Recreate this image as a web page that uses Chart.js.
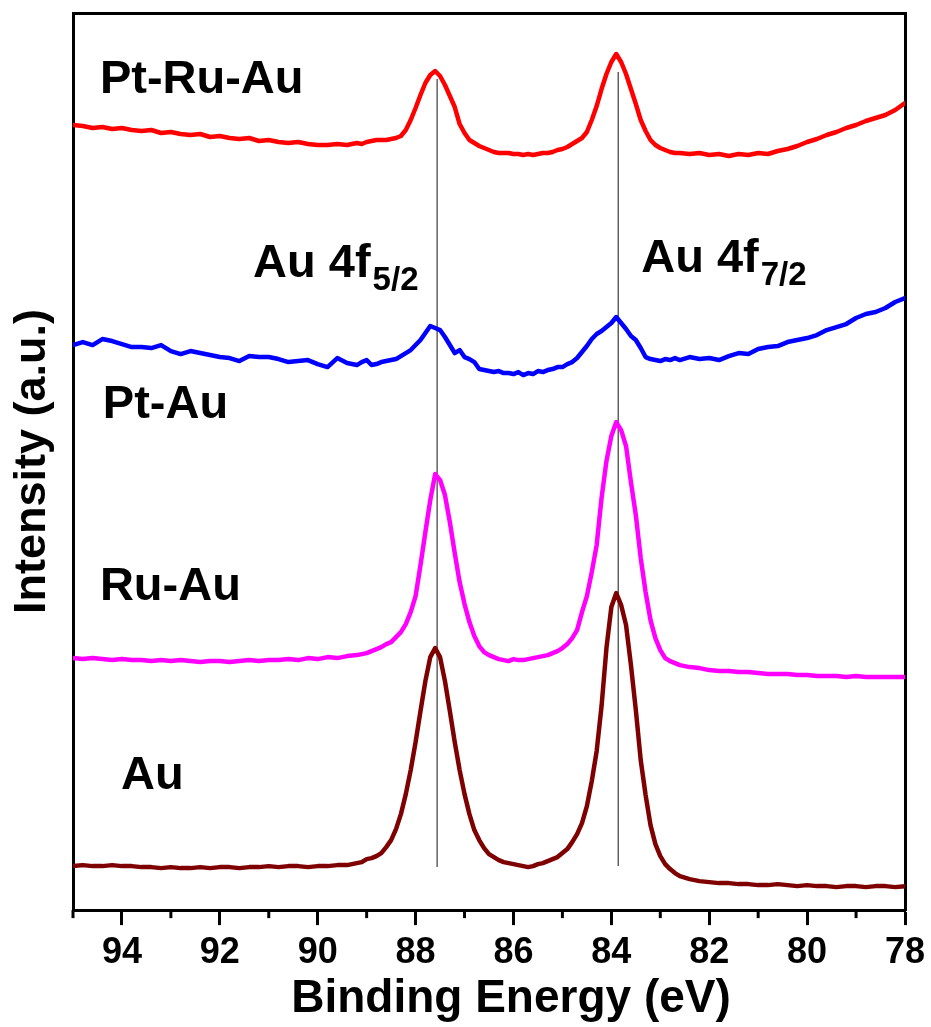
<!DOCTYPE html>
<html>
<head>
<meta charset="utf-8">
<script src="https://cdn.jsdelivr.net/npm/chart.js@4.4.1/dist/chart.umd.min.js"></script>
<style>
  html, body { margin: 0; padding: 0; background: #fff; }
  #wrap { width: 931px; height: 1027px; }
</style>
</head>
<body>
<div id="wrap"><canvas id="xps" width="931" height="1027"></canvas></div>
<script>
// binding energy (eV), finer steps across the Au 4f doublet
const energies = [
  95.0, 94.8, 94.6, 94.4, 94.2, 94.0, 93.8, 93.6, 93.4, 93.2, 93.0, 92.8, 92.6, 92.4, 92.2,
  92.0, 91.8, 91.6, 91.4, 91.2, 91.0, 90.8, 90.6, 90.4, 90.2, 90.0, 89.8, 89.6, 89.4, 89.2,
  89.1, 89.0, 88.9, 88.8, 88.7, 88.6, 88.5, 88.4, 88.3, 88.2, 88.1, 88.0, 87.9, 87.8, 87.7,
  87.6, 87.5, 87.4, 87.3, 87.2, 87.1, 87.0, 86.9, 86.8, 86.7, 86.6, 86.5, 86.4, 86.3, 86.2,
  86.1, 86.0, 85.9, 85.8, 85.7, 85.6, 85.5, 85.4, 85.3, 85.2, 85.1, 85.0, 84.9, 84.8, 84.7,
  84.6, 84.5, 84.4, 84.3, 84.2, 84.1, 84.0, 83.9, 83.8, 83.7, 83.6, 83.5, 83.4, 83.3, 83.2,
  83.1, 83.0, 82.9, 82.8, 82.7, 82.6,
  82.4, 82.2, 82.0, 81.8, 81.6, 81.4, 81.2, 81.0, 80.8, 80.6, 80.4, 80.2, 80.0, 79.8, 79.6,
  79.4, 79.2, 79.0, 78.8, 78.6, 78.4, 78.2, 78.0
];

// stacked intensities (a.u., offset per sample)
const ptRuAu = [
  785, 784, 782, 783, 781, 782, 780, 779, 780, 777, 778, 776, 775, 776, 773,
  774, 772, 771, 772, 769, 770, 768, 767, 768, 766, 765, 765, 766, 765, 767,
  766, 768, 769, 770, 770, 770, 771, 772, 774, 780, 790, 802, 815, 827, 835,
  839, 834, 825, 814, 803, 786, 777, 770, 767, 764, 762, 760, 758, 757, 757,
  757, 756, 756, 755, 756, 755, 756, 757, 757, 758, 760, 761, 763, 766, 769,
  772, 778, 790, 804, 821, 836, 848, 856, 848, 836, 821, 806, 790, 779, 770,
  765, 762, 760, 758, 757, 757,
  756, 757, 755, 756, 754, 756, 755, 757, 756, 759, 761, 764, 768, 771, 775,
  778, 782, 785, 789, 792, 795, 800, 807
];
const ptAu = [
  565, 568, 565, 571, 569, 566, 563, 563, 562, 565, 559, 556, 559, 557, 555,
  553, 552, 549, 554, 553, 553, 551, 548, 549, 550, 546, 543, 552, 547, 545,
  548, 550, 545, 546, 548, 549, 550, 551, 554, 557, 560, 565, 570, 577, 584,
  582, 580, 573, 565, 557, 560, 553, 551, 548, 541, 540, 539, 538, 539, 537,
  537, 536, 538, 535, 537, 536, 539, 538, 540, 541, 543, 543, 546, 548, 552,
  558, 564, 571, 576, 579, 583, 587, 593, 587, 581, 574, 570, 562, 553, 551,
  550, 549, 551, 550, 552, 550,
  553, 551, 552, 550, 554, 557, 556, 561, 563, 564, 568, 570, 572, 575, 580,
  583, 586, 592, 596, 598, 602, 608, 612
];
const ruAu = [
  252, 251, 252, 251, 250, 251, 250, 250, 249, 250, 249, 250, 249, 248, 249,
  249, 248, 249, 250, 249, 250, 250, 251, 250, 252, 251, 253, 252, 254, 255,
  256, 257, 259, 261, 263, 266, 268, 273, 278, 286, 298, 314, 345, 378, 410,
  436, 430, 415, 388, 357, 328, 306, 288, 274, 264, 258, 255, 253, 251, 250,
  249, 251, 250, 250, 251, 252, 253, 254, 255, 257, 259, 262, 266, 272, 280,
  298, 314, 338, 365, 412, 449, 474, 488, 480, 464, 428, 395, 352, 318, 290,
  272, 260, 252, 249, 247, 245,
  243, 242, 240, 239, 239, 238, 238, 237, 236, 236, 236, 235, 235, 234, 234,
  234, 233, 234, 233, 233, 233, 233, 233
];
const au = [
  44, 45, 44, 44, 45, 44, 44, 43, 43, 42, 43, 42, 42, 43, 42,
  43, 43, 42, 43, 43, 44, 43, 44, 44, 43, 44, 44, 45, 45, 47,
  48, 51, 52, 54, 57, 63, 70, 81, 96, 116, 140, 168, 199, 229, 253,
  262, 253, 229, 199, 168, 140, 116, 96, 80, 70, 62, 56, 53, 50, 48,
  47, 46, 45, 44, 43, 44, 46, 47, 49, 51, 53, 57, 61, 68, 76,
  87, 104, 129, 159, 204, 262, 303, 317, 305, 285, 245, 200, 150, 115, 85,
  66, 54, 46, 41, 37, 34,
  31, 29, 28, 27, 27, 26, 26, 25, 25, 26, 25, 24, 25, 24, 24,
  23, 24, 24, 23, 24, 24, 23, 24
];

// peak positions (eV) and vertical extent of the guide lines
const peakLines = [87.56, 83.86];
const peakLineSpan = [[43, 831], [44, 838]];

const majorTicks = [94, 92, 90, 88, 86, 84, 82, 80, 78];
const minorTicks = [95, 93, 91, 89, 87, 85, 83, 81, 79];

const FONT = "'Liberation Sans', Arial, sans-serif";

function series(values) {
  return values.map((v, i) => ({ x: energies[i], y: v }));
}

function curve(label, values, color) {
  return {
    label: label,
    data: series(values),
    borderColor: color,
    borderWidth: 4.5,
    pointRadius: 0,
    tension: 0,
    borderJoinStyle: 'round',
    borderCapStyle: 'round'
  };
}

function guide(e, span) {
  return {
    label: 'guide',
    data: [{ x: e, y: span[0] }, { x: e, y: span[1] }],
    borderColor: '#3a3a3a',
    borderWidth: 1.2,
    pointRadius: 0
  };
}

// sample names and peak labels, placed in data coordinates
const textLabels = [
  { text: 'Pt-Ru-Au', at: [94.45, 817] },
  { text: 'Pt-Au', at: [94.39, 492] },
  { text: 'Ru-Au', at: [94.45, 310] },
  { text: 'Au', at: [94.02, 121] },
  { text: 'Au 4f', sub: '5/2', at: [91.32, 633] },
  { text: 'Au 4f', sub: '7/2', at: [83.39, 638] }
];

// x title sits a little right of the axis centre in the original
const xTitle = { text: 'Binding Energy (eV)', at: 86.05, below: 89 };

const labelPlugin = {
  id: 'textLabels',
  afterDatasetsDraw(chart) {
    const { ctx, scales, chartArea } = chart;
    ctx.save();
    ctx.fillStyle = '#000';
    ctx.textAlign = 'left';
    ctx.textBaseline = 'alphabetic';
    textLabels.forEach(function (l) {
      const px = scales.x.getPixelForValue(l.at[0]);
      const py = scales.y.getPixelForValue(l.at[1]);
      ctx.font = 'bold 47px ' + FONT;
      ctx.fillText(l.text, px, py);
      if (l.sub) {
        const w = ctx.measureText(l.text).width;
        ctx.font = 'bold 33px ' + FONT;
        ctx.fillText(l.sub, px + w + 2, py + 13);
      }
    });
    ctx.textAlign = 'center';
    ctx.textBaseline = 'middle';
    ctx.font = 'bold 46px ' + FONT;
    ctx.fillText(xTitle.text, scales.x.getPixelForValue(xTitle.at), chartArea.bottom + xTitle.below);
    ctx.restore();
  }
};

// short minor ticks between the labelled ones
const minorTickPlugin = {
  id: 'minorTicks',
  afterDraw(chart) {
    const { ctx, chartArea, scales } = chart;
    ctx.save();
    ctx.strokeStyle = '#000';
    ctx.lineWidth = 3;
    minorTicks.forEach(function (v) {
      const px = scales.x.getPixelForValue(v);
      ctx.beginPath();
      ctx.moveTo(px, chartArea.bottom);
      ctx.lineTo(px, chartArea.bottom + 8);
      ctx.stroke();
    });
    ctx.restore();
  }
};

new Chart(document.getElementById('xps'), {
  type: 'line',
  data: {
    datasets: [
      curve('Pt-Ru-Au', ptRuAu, '#ff0000'),
      curve('Pt-Au', ptAu, '#0000ff'),
      curve('Ru-Au', ruAu, '#ff00ff'),
      curve('Au', au, '#7f0000'),
      guide(peakLines[0], peakLineSpan[0]),
      guide(peakLines[1], peakLineSpan[1])
    ]
  },
  options: {
    responsive: false,
    animation: false,
    devicePixelRatio: 1,
    layout: { padding: { left: 0, right: 26, top: 13, bottom: 45 } },
    plugins: { legend: { display: false }, tooltip: { enabled: false } },
    scales: {
      x: {
        type: 'linear',
        position: 'bottom',
        min: 78,
        max: 95,
        reverse: true,
        afterBuildTicks: function (scale) {
          scale.ticks = majorTicks.map(v => ({ value: v }));
        },
        ticks: {
          color: '#000',
          padding: 0,
          maxRotation: 0,
          font: { family: FONT, size: 36, weight: 'bold', lineHeight: 1.58 }
        },
        grid: {
          display: true,
          drawOnChartArea: false,
          drawTicks: true,
          tickLength: 15,
          tickWidth: 3,
          tickColor: '#000'
        },
        border: { display: true, color: '#000', width: 3 },
        title: { display: false }
      },
      xTop: {
        type: 'linear',
        position: 'top',
        min: 78,
        max: 95,
        reverse: true,
        ticks: { display: false },
        grid: { display: true, drawOnChartArea: false, drawTicks: false },
        border: { display: true, color: '#000', width: 3 }
      },
      y: {
        type: 'linear',
        position: 'left',
        min: 0,
        max: 897,
        ticks: { display: false },
        grid: { display: true, drawOnChartArea: false, drawTicks: false },
        border: { display: true, color: '#000', width: 3 },
        title: {
          display: true,
          text: 'Intensity (a.u.)',
          color: '#000',
          font: { family: FONT, size: 45, weight: 'bold', lineHeight: 1.2 },
          padding: { top: 6, bottom: 13 }
        }
      },
      yRight: {
        type: 'linear',
        position: 'right',
        min: 0,
        max: 897,
        ticks: { display: false },
        grid: { display: true, drawOnChartArea: false, drawTicks: false },
        border: { display: true, color: '#000', width: 3 }
      }
    }
  },
  plugins: [labelPlugin, minorTickPlugin]
});
</script>
</body>
</html>
